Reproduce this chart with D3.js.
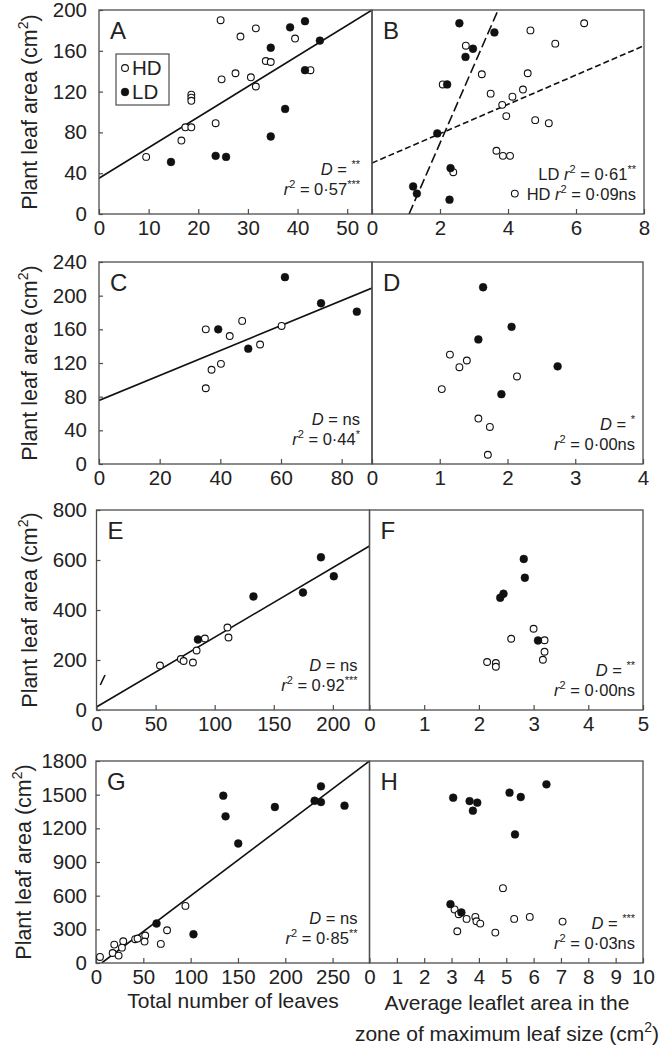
<!DOCTYPE html>
<html><head><meta charset="utf-8">
<script src="https://cdn.jsdelivr.net/npm/d3@7"></script>
<style>
body{margin:0;background:#fff;}
svg text{font-family:"Liberation Sans",Arial,sans-serif;fill:#222;}
</style></head><body>
<svg id="chart" width="663" height="1049"></svg>
<script>
// ---------------- data ----------------
// Panel A: plant leaf area vs total number of leaves
const aHD = [[9.5,56],[16.6,72],[17.4,85],[18.6,85],[18.6,117],[18.6,114],[18.6,111],[23.5,89],[24.5,190],[24.7,132],[27.5,138],[28.5,174],[30.6,134],[31.6,125],[31.6,182],[33.6,150],[34.6,149],[39.5,172],[42.6,141]];
const aLD = [[14.5,51],[23.5,57],[25.6,56],[34.6,163],[34.6,76],[37.5,103],[38.5,183],[41.5,189],[41.5,141],[44.5,170]];
const aFit = [[0,35],[55,200]];
// Panel B: plant leaf area vs average leaflet area
const bHD = [[2.76,165],[2.08,127],[3.23,137],[3.49,118],[3.83,107],[4.13,115],[3.95,96],[4.44,122],[4.58,138],[4.66,180],[5.39,167],[6.24,187],[4.8,92],[5.2,89],[3.66,62],[3.85,57],[4.06,57],[2.39,41],[4.2,20]];
const bLD = [[2.57,187],[3.6,178],[2.97,162],[2.75,154],[2.21,127],[1.92,79],[2.31,45],[1.21,27],[1.32,20],[2.28,14]];
const bFitLD = [[1.09,0],[3.71,200]];
const bFitHD = [[0,50],[8,165]];
// Panel C
const cHD = [[35.2,160],[35.2,90],[37.1,112],[40.2,119],[43.1,152],[47.2,170],[53.1,142],[60.2,164]];
const cLD = [[39.3,160],[49.2,137],[61.3,222],[73.2,191],[85,181]];
const cFit = [[0,75.5],[90,209]];
// Panel D
const dHD = [[1.15,130],[1.29,115],[1.4,123],[1.03,89],[2.14,104],[1.57,54],[1.74,44],[1.71,11]];
const dLD = [[1.64,210],[2.06,163],[1.57,148],[2.74,116],[1.91,83]];
// Panel E
const eHD = [[53.7,178],[71.4,204],[73.7,196],[81.6,190],[84.7,238],[91.7,286],[110.8,330],[111.7,290]];
const eLD = [[85.8,282],[132.8,454],[174.7,470],[189.9,611],[200.8,535]];
const eFit = [[0,12],[231,656]];
const eStray = [[3.2,100],[7.2,140]];
// Panel F
const fHD = [[3.0,325],[2.59,285],[3.2,279],[3.2,233],[3.17,201],[2.15,192],[2.31,188],[2.31,173]];
const fLD = [[2.82,604],[2.84,529],[2.45,465],[2.39,449],[3.08,278]];
// Panel G
const gHD = [[4.2,54],[17.6,89],[23.9,66],[19.3,164],[28.8,194],[27.4,137],[41.4,212],[43.9,218],[52,245],[51.3,191],[68.5,170],[75.1,292],[94.5,509]];
const gLD = [[64,352],[103,256],[134.5,1491],[136.9,1307],[150.3,1065],[189,1390],[231,1446],[237.7,1574],[237.7,1434],[262.6,1402]];
const gFit = [[6,0],[289,1800]];
// Panel H
const hHD = [[4.88,667],[3.11,477],[3.26,435],[3.55,393],[3.87,411],[3.91,372],[4.05,351],[3.21,283],[4.6,271],[5.29,393],[5.86,411],[7.06,369]];
const hLD = [[3.06,1473],[3.66,1443],[3.94,1429],[3.78,1357],[5.12,1518],[5.53,1479],[6.47,1592],[5.32,1146],[2.96,524],[3.36,450]];

// ticks
const aXTicks = [0,10,20,30,40,50];
const bXTicks = [0,2,4,6,8];
const cXTicks = [0,20,40,60,80];
const dXTicks = [0,1,2,3,4];
const eXTicks = [0,50,100,150,200];
const fXTicks = [0,1,2,3,4,5];
const gXTicks = [0,50,100,150,200,250];
const hXTicks = [0,1,2,3,4,5,6,7,8,9,10];
const row1YTicks = [0,40,80,120,160,200];
const row2YTicks = [0,40,80,120,160,200,240];
const row3YTicks = [0,200,400,600,800];
const row4YTicks = [0,300,600,900,1200,1500,1800];

// text
const panelLetters = ["A","B","C","D","E","F","G","H"];
const legendLabels = ["HD","LD"];
const yTitle = [["Plant leaf area (cm",""],["2","sup"],[")",""]];
const xTitleLeft = "Total number of leaves";
const xTitleRight1 = "Average leaflet area in the";
const xTitleRight2 = [["zone of maximum leaf size (cm",""],["2","sup"],[")",""]];
const noteA = [[["D","i"],[" = ",""],["**","sup"]],[["r","i"],["2","sup"],[" = 0·57",""],["***","sup"]]];
const noteB = [[["LD ",""],["r","i"],["2","sup"],[" = 0·61",""],["**","sup"]],[["HD ",""],["r","i"],["2","sup"],[" = 0·09ns",""]]];
const noteC = [[["D","i"],[" = ns",""]],[["r","i"],["2","sup"],[" = 0·44",""],["*","sup"]]];
const noteD = [[["D","i"],[" = ",""],["*","sup"]],[["r","i"],["2","sup"],[" = 0·00ns",""]]];
const noteE = [[["D","i"],[" = ns",""]],[["r","i"],["2","sup"],[" = 0·92",""],["***","sup"]]];
const noteF = [[["D","i"],[" = ",""],["**","sup"]],[["r","i"],["2","sup"],[" = 0·00ns",""]]];
const noteG = [[["D","i"],[" = ns",""]],[["r","i"],["2","sup"],[" = 0·85",""],["**","sup"]]];
const noteH = [[["D","i"],[" = ",""],["***","sup"]],[["r","i"],["2","sup"],[" = 0·03ns",""]]];

// ---------------- layout ----------------
const rows = [
  {top:10, bottom:214, yDom:[0,200], yTicks:row1YTicks,
   L:{x0:99, x1:372, dom:[0,55], ticks:aXTicks, hd:aHD, ld:aLD, fits:[{pts:aFit,dash:null}], note:noteA, letter:0, legend:true},
   R:{x0:372, x1:644, dom:[0,8], ticks:bXTicks, hd:bHD, ld:bLD, fits:[{pts:bFitLD,dash:"10,4"},{pts:bFitHD,dash:"6,3"}], note:noteB, letter:1}},
  {top:262, bottom:464, yDom:[0,240], yTicks:row2YTicks,
   L:{x0:99, x1:372, dom:[0,90], ticks:cXTicks, hd:cHD, ld:cLD, fits:[{pts:cFit,dash:null}], note:noteC, letter:2},
   R:{x0:372, x1:643, dom:[0,4], ticks:dXTicks, hd:dHD, ld:dLD, fits:[], note:noteD, letter:3}},
  {top:510, bottom:710, yDom:[0,800], yTicks:row3YTicks,
   L:{x0:96.5, x1:369.5, dom:[0,231], ticks:eXTicks, hd:eHD, ld:eLD, fits:[{pts:eFit,dash:null},{pts:eStray,dash:null}], note:noteE, letter:4},
   R:{x0:369.5, x1:643, dom:[0,5], ticks:fXTicks, hd:fHD, ld:fLD, fits:[], note:noteF, letter:5}},
  {top:761, bottom:963, yDom:[0,1800], yTicks:row4YTicks,
   L:{x0:96, x1:369.5, dom:[0,289], ticks:gXTicks, hd:gHD, ld:gLD, fits:[{pts:gFit,dash:null}], note:noteG, letter:6},
   R:{x0:369.5, x1:643, dom:[0,10], ticks:hXTicks, hd:hHD, ld:hLD, fits:[], note:noteH, letter:7}}
];

const svg = d3.select("#chart");
const AX = "#4d4d4d";
const FS = 20.5;
const FONT = "Liberation Sans";

function richText(sel, segs, baseSize, supSize){
  let shift = 0;
  segs.forEach(([t, st]) => {
    const ts = sel.append("tspan").text(t);
    if (st === "sup") {
      ts.attr("font-size", supSize).attr("dy", -(baseSize*0.42) - shift);
      shift = -(baseSize*0.42);
    } else {
      ts.attr("dy", -shift);
      shift = 0;
      if (st === "i") ts.attr("font-style","italic");
    }
  });
}

rows.forEach((row, ri) => {
  const y = d3.scaleLinear().domain(row.yDom).range([row.bottom, row.top]);
  ["L","R"].forEach(side => {
    const p = row[side];
    const x = d3.scaleLinear().domain(p.dom).range([p.x0, p.x1]);
    const g = svg.append("g");
    const clipId = "clip"+ri+side;
    svg.append("clipPath").attr("id", clipId).append("rect")
      .attr("x", p.x0).attr("y", row.top).attr("width", p.x1-p.x0).attr("height", row.bottom-row.top);

    // fit lines
    const line = d3.line().x(d=>x(d[0])).y(d=>y(d[1]));
    p.fits.forEach(f => {
      g.append("path").attr("d", line(f.pts)).attr("fill","none")
        .attr("stroke","#111").attr("stroke-width",1.6)
        .attr("stroke-dasharray", f.dash)
        .attr("clip-path", "url(#"+clipId+")");
    });

    // x axis
    const xa = g.append("g").attr("transform", `translate(0,${row.bottom})`)
      .call(d3.axisBottom(x).tickValues(p.ticks).tickFormat(d3.format("d")).tickSize(-5).tickPadding(6));
    xa.select(".domain").remove();
    xa.selectAll("line").attr("stroke", AX).attr("stroke-width",1.2);
    xa.selectAll("text").attr("font-size", FS).attr("fill","#222").attr("font-family",FONT);

    // y axis ticks (left panel only)
    if (side === "L") {
      const ya = g.append("g").attr("transform", `translate(${p.x0},0)`)
        .call(d3.axisLeft(y).tickValues(row.yTicks).tickFormat(d3.format("d")).tickSize(-4).tickPadding(p.x0-87));
      ya.select(".domain").remove();
      ya.selectAll("line").attr("stroke", AX).attr("stroke-width",1.2);
      ya.selectAll("text").attr("font-size", FS).attr("fill","#222").attr("font-family",FONT);
    }

    // frame
    g.append("rect").attr("x", p.x0).attr("y", row.top)
      .attr("width", p.x1-p.x0).attr("height", row.bottom-row.top)
      .attr("fill","none").attr("stroke", AX).attr("stroke-width",1.3);

    // points
    g.selectAll("circle.hd").data(p.hd).join("circle").attr("class","hd")
      .attr("cx", d=>x(d[0])).attr("cy", d=>y(d[1])).attr("r",3.4)
      .attr("fill","#fff").attr("stroke","#111").attr("stroke-width",1.1);
    g.selectAll("circle.ld").data(p.ld).join("circle").attr("class","ld")
      .attr("cx", d=>x(d[0])).attr("cy", d=>y(d[1])).attr("r",3.9)
      .attr("fill","#111").attr("stroke","#111").attr("stroke-width",0.5);

    // panel letter
    g.append("text").attr("x", p.x0+11).attr("y", row.top+29)
      .attr("font-size", 24).text(panelLetters[p.letter]);

    // annotations
    const rightX = side === "L" ? p.x1-12 : p.x1-8;
    const bases = side === "L" ? [row.bottom-39, row.bottom-19] : [row.bottom-34, row.bottom-14];
    p.note.forEach((segs, i) => {
      const t = g.append("text").attr("x", rightX).attr("y", bases[i])
        .attr("text-anchor","end").attr("font-size", 16.5);
      richText(t, segs, 16.5, 11);
    });

    // legend
    if (p.legend) {
      g.append("rect").attr("x",116).attr("y",54).attr("width",53).attr("height",51)
        .attr("fill","#fff").attr("stroke",AX).attr("stroke-width",1.2);
      legendLabels.forEach((lab,i) => {
        g.append("circle").attr("cx",125).attr("cy",68+i*24).attr("r", i===0?3.4:3.9)
          .attr("fill", i===0?"#fff":"#111").attr("stroke","#111").attr("stroke-width", i===0?1.1:0.5);
        g.append("text").attr("x",132).attr("y",75+i*24).attr("font-size",20.5).text(lab);
      });
    }
  });

  // y title
  const yt = svg.append("text")
    .attr("transform", `translate(${ri===3?31:37},${(row.top+row.bottom)/2}) rotate(-90)`)
    .attr("text-anchor","middle").attr("font-size",21.5);
  richText(yt, yTitle, 21.5, 14);
});

// x titles
svg.append("text").attr("x",233).attr("y",1008).attr("text-anchor","middle")
  .attr("font-size",21).text(xTitleLeft);
svg.append("text").attr("x",507).attr("y",1010).attr("text-anchor","middle")
  .attr("font-size",21).text(xTitleRight1);
const xt2 = svg.append("text").attr("x",507).attr("y",1041).attr("text-anchor","middle").attr("font-size",21);
richText(xt2, xTitleRight2, 21, 14);
</script>
</body></html>
